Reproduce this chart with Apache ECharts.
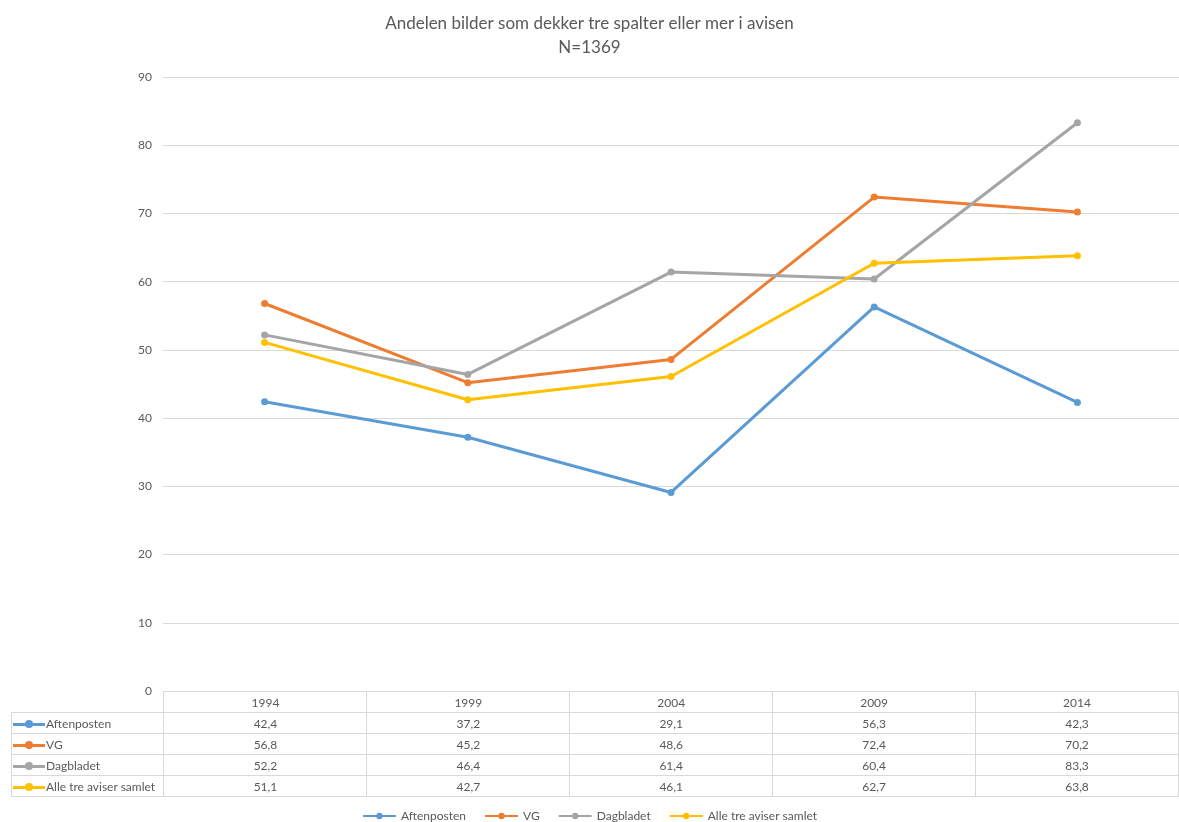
<!DOCTYPE html>
<html>
<head>
<meta charset="utf-8">
<script src="https://cdn.jsdelivr.net/npm/echarts@6/dist/echarts.min.js"></script>
<style>
  html, body { margin: 0; padding: 0; background: #fff; }
  #wrap { position: relative; width: 1179px; height: 822px; font-family: Lato, "Open Sans", sans-serif; }
  #main { position: absolute; left: 0; top: 0; width: 1179px; height: 822px; }
  #tbl { position: absolute; left: 11px; top: 691px; border-collapse: collapse; font-size: 12px; color: #595959; }
  #tbl td { border: 1px solid #d9d9d9; height: 20px; padding: 0; text-align: center; white-space: nowrap; }
  #tbl td.lab { text-align: left; width: 151px; padding-left: 0; }
  #tbl td.blank { border: none; }
  .ico { display: inline-block; position: relative; width: 32px; height: 8px; vertical-align: middle; margin: 0 1px 0 1px; }
  .ico i { position: absolute; left: 0; top: 3px; width: 32px; height: 3px; }
  .ico b { position: absolute; left: 12px; top: 0; width: 8px; height: 8px; border-radius: 4px; }
</style>
</head>
<body>
<div id="wrap">
  <div id="main"></div>
  <table id="tbl"></table>
</div>
<script>
var years = ["1994", "1999", "2004", "2009", "2014"];
var names = ["Aftenposten", "VG", "Dagbladet", "Alle tre aviser samlet"];
var aftenposten = [42.4, 37.2, 29.1, 56.3, 42.3];
var vg = [56.8, 45.2, 48.6, 72.4, 70.2];
var dagbladet = [52.2, 46.4, 61.4, 60.4, 83.3];
var samlet = [51.1, 42.7, 46.1, 62.7, 63.8];
var colors = ["#5B9BD5", "#ED7D31", "#A5A5A5", "#FFC000"];
var allData = [aftenposten, vg, dagbladet, samlet];

var myChart = echarts.init(document.getElementById("main"));
myChart.setOption({
  color: colors,
  textStyle: { fontFamily: "Lato, 'Open Sans', sans-serif" },
  title: {
    text: "Andelen bilder som dekker tre spalter eller mer i avisen\nN=1369",
    left: "center",
    top: 7,
    textStyle: { fontSize: 17, fontWeight: "normal", color: "#595959", lineHeight: 24 }
  },
  legend: {
    bottom: -5,
    left: "center",
    itemWidth: 33,
    itemHeight: 8,
    itemGap: 18,
    textStyle: { fontSize: 12, color: "#595959" },
    data: names
  },
  grid: { left: 163, right: 0, top: 77, bottom: 131 },
  xAxis: {
    type: "category",
    data: years,
    boundaryGap: true,
    axisLine: { show: false },
    axisTick: { show: false },
    axisLabel: { show: false }
  },
  yAxis: {
    type: "value",
    min: 0,
    max: 90,
    interval: 10,
    axisLine: { show: false },
    axisTick: { show: false },
    axisLabel: { color: "#595959", fontSize: 12, margin: 11 },
    splitLine: { lineStyle: { color: "#d9d9d9" } }
  },
  series: names.map(function (n, i) {
    return {
      name: n,
      type: "line",
      data: allData[i],
      symbol: "circle",
      symbolSize: 7,
      lineStyle: { width: 3 },
      itemStyle: { color: colors[i] }
    };
  })
});

// data table under the plot
var colW = (1179 - 163) / years.length;
var html = "<tr><td class='blank' style='width:152px'></td>";
years.forEach(function (y) { html += "<td style='width:" + (colW - 1) + "px'>" + y + "</td>"; });
html += "</tr>";
names.forEach(function (n, i) {
  html += "<tr><td class='lab'><span class='ico'><i style='background:" + colors[i] + "'></i><b style='background:" + colors[i] + "'></b></span>" + n + "</td>";
  allData[i].forEach(function (v) { html += "<td>" + String(v).replace(".", ",") + "</td>"; });
  html += "</tr>";
});
document.getElementById("tbl").innerHTML = html;
</script>
</body>
</html>
